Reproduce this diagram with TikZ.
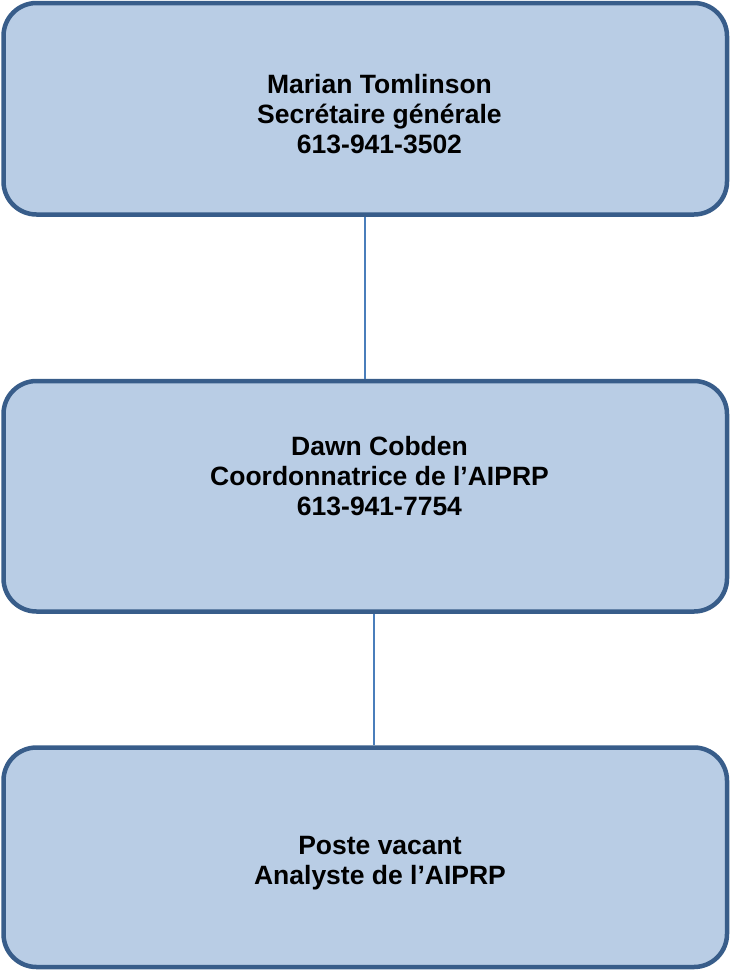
\documentclass[tikz,border=0pt]{standalone}
\usepackage{fontspec}
\setmainfont{Liberation Sans}
\usetikzlibrary{positioning,calc}

\definecolor{boxfill}{HTML}{B9CDE5}
\definecolor{boxline}{HTML}{385D8A}
\definecolor{linkline}{HTML}{4A7EBB}

\tikzset{
  box/.style={draw=boxline, fill=boxfill, line width=4.5pt, rounded corners=33pt,
    minimum width=723.5pt, inner sep=0pt},
  txt/.style={align=center, font=\bfseries\fontsize{26.5}{30}\selectfont, inner sep=0pt},
  link/.style={draw=linkline, line width=1.6pt}
}

\begin{document}
\begin{tikzpicture}[x=1pt, y=-1pt]
    \useasboundingbox (0,0) rectangle (730,970);

    % Boxes
    \node[box, minimum height=211.5pt] (sg) at (365.25,108.75) {};
    \node[box, minimum height=230.5pt] (cd) at (365.25,496.25) {};
    \node[box, minimum height=219.5pt] (pv) at (365.25,857.25) {};

    % Texts
    \node[txt] (sgtxt) at (379.5,114) {Marian Tomlinson\\Secrétaire générale\\613-941-3502};
    \node[txt] (cdtxt) at (379.5,476) {Dawn Cobden\\Coordonnatrice de l’AIPRP\\613-941-7754};
    \node[txt] (pvtxt) at (380,863) {Poste vacant\\Analyste de l’AIPRP};

    % Connectors
    \draw[link] ([xshift=-0.5pt]sg.south) -- ([xshift=-0.5pt]cd.north);
    \draw[link] ([xshift=8.75pt]cd.south) -- ([xshift=8.75pt]pv.north);
  \end{tikzpicture}
\end{document}
